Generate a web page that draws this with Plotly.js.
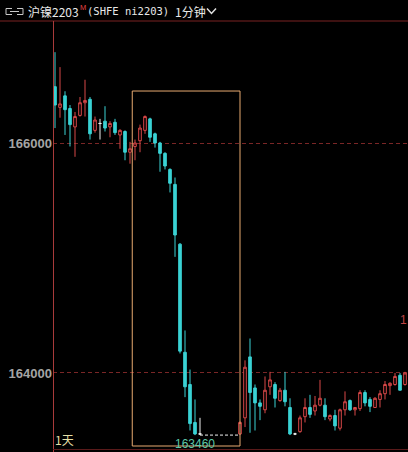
<!DOCTYPE html>
<html>
<head>
<meta charset="utf-8">
<script src="https://cdn.plot.ly/plotly-3.0.1.min.js"></script>
<style>
  html, body { margin: 0; padding: 0; background: #000; }
  #chart { width: 408px; height: 452px; }
</style>
</head>
<body>
<div id="chart"></div>
<script>
// 沪镍2203 1-minute bars (SHFE ni2203)
const slots  = [0,1,2,3,4,5,6,7,8,9,10,11,12,13,14,15,16,17,18,19,20,21,22,23,24,25,26,27,28,29,
                37,38,39,40,41,42,43,44,45,46,47,48,49,50,51,52,53,54,55,56,57,58,59,60,61,62,63,64,65,66,67,68,69,70];
const opens  = [166490,166310,166410,166300,166140,166240,166350,166380,166110,166170,166190,166140,166180,166070,166100,
                165920,165970,166020,166110,166210,166080,166000,165910,165770,165640,165120,164180,163900,163570,163470,
                163470,163610,164140,163870,163740,163680,163880,163900,163760,163850,163700,163470,163490,163620,163700,
                163670,163720,163720,163600,163630,163520,163680,163760,163680,163690,163830,163770,163700,163770,163820,
                163890,163900,163980,163900];
const highs  = [166790,166660,166450,166330,166270,166400,166550,166400,166230,166210,166320,166190,166210,166120,166110,
                166010,166030,166160,166240,166220,166090,166010,165920,165780,165700,165130,164370,164030,163770,163610,
                163580,164110,164300,163900,163770,163970,164010,163920,163870,164010,163780,163480,163630,163780,163810,
                163800,163940,163780,163640,163680,163690,163840,163770,163700,163850,163850,163790,163790,163850,163930,
                163920,164000,164000,164010];
const lows   = [166130,166220,166070,165970,165880,166230,166230,166030,166090,166030,166100,166050,166070,165950,165850,
                165820,165850,165920,166080,166010,165960,165750,165770,165570,165010,164170,163790,163500,163460,163460,
                163460,163530,163480,163500,163590,163650,163810,163700,163750,163710,163460,163460,163480,163570,163610,
                163630,163710,163590,163580,163500,163500,163630,163670,163630,163670,163710,163660,163700,163700,163770,
                163810,163890,163850,163890];
const closes = [166330,166340,166290,166160,166230,166350,166370,166080,166200,166170,166130,166170,166090,166110,165920,
                165950,166000,166130,166230,166050,166000,165910,165800,165650,165200,164190,163880,163560,163470,163470,
                163570,164050,163830,163740,163710,163850,163940,163780,163850,163750,163470,163470,163610,163700,163640,
                163720,163780,163620,163630,163540,163680,163750,163680,163700,163830,163740,163710,163780,163820,163900,
                163910,163970,163850,164000];
const priceTicks = [164000, 166000];

// pixel helpers for items placed in the margins (plot area: x 53..408, y 21..449)
const W = 408, H = 452, L = 53, T = 21, B = 3;
const pw = W - L, ph = H - T - B;
const px = x => (x - L) / pw;
const py = y => (H - B - y) / ph;

// split regular bars from flat (doji) bars, which are drawn white
const reg = { x: [], o: [], h: [], l: [], c: [] };
const flat = { x: [], o: [], h: [], l: [], c: [] };
slots.forEach((s, i) => {
  const t = opens[i] === closes[i] ? flat : reg;
  t.x.push(s); t.o.push(opens[i]); t.h.push(highs[i]); t.l.push(lows[i]); t.c.push(closes[i]);
});

const UP = '#d84848', DOWN = '#3ad2d4';

// lowest low of the visible bars
const lowPrice = Math.min(...lows);
const lowIdx = lows.indexOf(lowPrice);
const lowSlot = slots[lowIdx];
const boxLeft = 15.45, boxRight = 37;

const traces = [
  {
    type: 'candlestick', x: reg.x, open: reg.o, high: reg.h, low: reg.l, close: reg.c,
    increasing: { line: { color: UP, width: 1 }, fillcolor: '#000000' },
    decreasing: { line: { color: DOWN, width: 1 }, fillcolor: DOWN },
    whiskerwidth: 0, hoverinfo: 'skip', showlegend: false
  },
  {
    type: 'candlestick', x: flat.x, open: flat.o, high: flat.h, low: flat.l, close: flat.c,
    increasing: { line: { color: '#f0f0f0', width: 1 }, fillcolor: '#f0f0f0' },
    decreasing: { line: { color: '#f0f0f0', width: 1 }, fillcolor: '#f0f0f0' },
    whiskerwidth: 0, hoverinfo: 'skip', showlegend: false
  },
  {
    type: 'scatter', mode: 'lines',
    x: [lowSlot + 1, boxRight], y: [lowPrice, lowPrice],
    line: { color: '#f0f0f0', width: 1, dash: '3px,2px' },
    hoverinfo: 'skip', showlegend: false
  }
];

const hdrY = 11.5;
const annotations = [
  { text: '沪镍2203', x: px(27), y: py(hdrY), xanchor: 'left', yanchor: 'middle',
    font: { family: 'Noto Sans CJK SC', size: 12, color: '#e8e8e8' } },
  { text: 'M', x: px(79), y: py(7.5), xanchor: 'left', yanchor: 'middle',
    font: { family: 'Liberation Sans', size: 7.5, color: '#e84444' } },
  { text: '(SHFE ni2203)', x: px(86), y: py(hdrY), xanchor: 'left', yanchor: 'middle',
    font: { family: 'DejaVu Sans Mono', size: 10.5, color: '#e8e8e8' } },
  { text: '1分钟', x: px(174), y: py(hdrY), xanchor: 'left', yanchor: 'middle',
    font: { family: 'Noto Sans CJK SC', size: 12, color: '#e8e8e8' } },
  { text: '1天', x: px(54), y: py(439), xanchor: 'left', yanchor: 'middle',
    font: { family: 'Noto Sans CJK SC', size: 12, color: '#e4dfa6' } },
  { text: String(lowPrice), x: lowSlot, y: lowPrice, xref: 'x', yref: 'y',
    xanchor: 'center', yanchor: 'top', yshift: -1,
    font: { family: 'Liberation Sans', size: 12, color: '#5cc8a8' } },
  { text: '1', x: px(408), y: py(320), xanchor: 'right', yanchor: 'middle',
    font: { family: 'Liberation Sans', size: 12, color: '#c04444' } }
].map(a => Object.assign({ xref: 'paper', yref: 'paper', showarrow: false, borderpad: 0 }, a));

const shapes = [
  // highlighted range
  { type: 'rect', xref: 'x', yref: 'y', x0: boxLeft, x1: boxRight, y0: 163365, y1: 166452,
    line: { color: '#e8aa70', width: 1 }, fillcolor: 'rgba(0,0,0,0)' },
  // frame lines
  { type: 'line', xref: 'paper', yref: 'paper', x0: px(0), x1: px(W), y0: py(21), y1: py(21),
    line: { color: '#7a2222', width: 1 } },
  { type: 'line', xref: 'paper', yref: 'paper', x0: px(53.5), x1: px(53.5), y0: py(21), y1: py(H),
    line: { color: '#a83a3a', width: 1 } },
  { type: 'line', xref: 'paper', yref: 'paper', x0: px(53), x1: px(W), y0: py(449.5), y1: py(449.5),
    line: { color: '#5a1a1a', width: 1 } },
  // link icon
  { type: 'path', xref: 'paper', yref: 'paper',
    path: `M${px(12)},${py(8.5)} L${px(6)},${py(8.5)} L${px(6)},${py(14.5)} L${px(12)},${py(14.5)}` +
          ` M${px(17)},${py(8.5)} L${px(23)},${py(8.5)} L${px(23)},${py(14.5)} L${px(17)},${py(14.5)}` +
          ` M${px(10)},${py(11.5)} L${px(19)},${py(11.5)}`,
    line: { color: '#c8c8c8', width: 1 } },
  // dropdown chevron
  { type: 'path', xref: 'paper', yref: 'paper',
    path: `M${px(207)},${py(8.5)} L${px(211.5)},${py(13.5)} L${px(216)},${py(8.5)}`,
    line: { color: '#e0e0e0', width: 1.5 } }
];

const layout = {
  width: W, height: H,
  margin: { l: L, r: 0, t: T, b: B, pad: 0 },
  paper_bgcolor: '#000000', plot_bgcolor: '#000000',
  showlegend: false, hovermode: false,
  boxgap: 0.25,
  xaxis: {
    type: 'linear', range: [-0.4, 70.6], showgrid: false, zeroline: false,
    showticklabels: false, showline: false, ticks: '', rangeslider: { visible: false }, fixedrange: true
  },
  yaxis: {
    range: [163339, 167061], tickmode: 'array', tickvals: priceTicks,
    ticktext: priceTicks.map(String), ticks: '', showline: false, zeroline: false,
    showgrid: true, gridcolor: '#7a2626', gridwidth: 1, griddash: '4px,3px',
    tickfont: { family: 'Liberation Sans', size: 13, color: '#a4a4a4', weight: 'bold' },
    fixedrange: true
  },
  shapes: shapes,
  annotations: annotations
};

Plotly.newPlot('chart', traces, layout, { staticPlot: true, displayModeBar: false });
</script>
</body>
</html>
